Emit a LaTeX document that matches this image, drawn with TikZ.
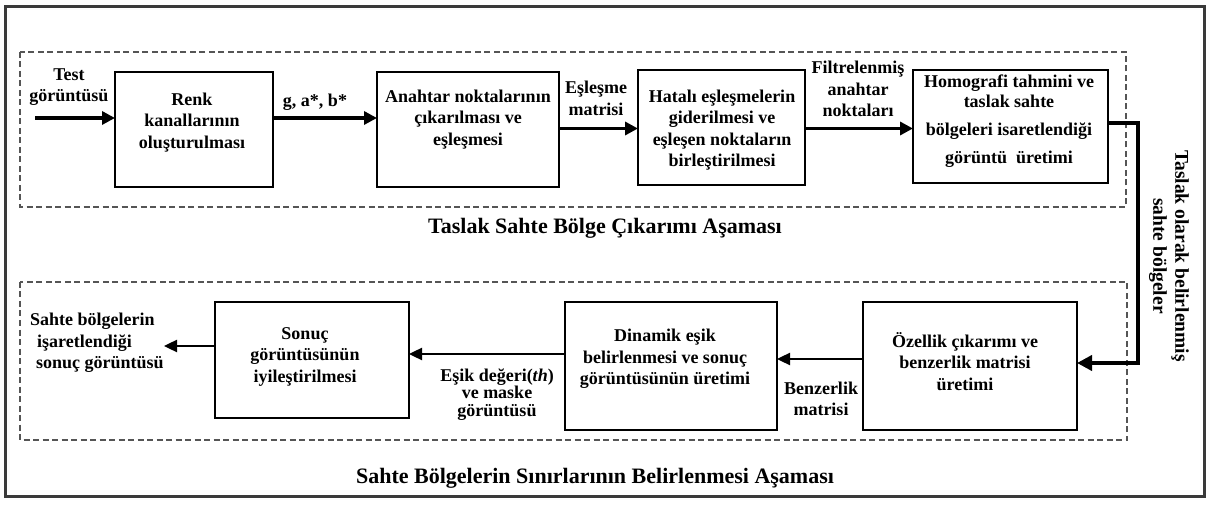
\documentclass[tikz,border=0pt]{standalone}
\usepackage{fontspec}
\setmainfont{Liberation Serif}
\usetikzlibrary{arrows.meta,calc}
\definecolor{framegray}{HTML}{3A3A3A}
\definecolor{dashgray}{HTML}{555555}
\begin{document}
\begin{tikzpicture}[x=1pt,y=-1pt,
  every node/.style={inner sep=0pt, outer sep=0pt},
  txt/.style={font=\fontsize{18}{21.5}\selectfont\bfseries, align=center},
  title/.style={font=\fontsize{22}{26}\selectfont\bfseries},
  procbox/.style={draw, line width=2.5pt, fill=white},
  phase/.style={draw=dashgray, line width=1.2pt, dash pattern=on 6pt off 3.5pt},
  frame/.style={draw=framegray, line width=3pt},
  thickarr/.style={line width=3.8pt, -{Triangle[length=13pt,width=13pt]}},
  thinarr/.style={line width=2.4pt, -{Triangle[length=13pt,width=12pt]}},
  feedarr/.style={line width=3.8pt, line join=miter, -{Triangle[length=15pt,width=15pt]}}
]
% page and outer frame
\path[use as bounding box, fill=white] (0,0) rectangle (1211,505);
\draw[frame] (5.5,7) rectangle (1204,496);

% dashed stage frames
\draw[phase] (20,52) rectangle (1126,207);
\draw[phase] (20,282) rectangle (1127,440);

% stage titles
\node[title] (t1) at (605,228) {Taslak Sahte Bölge Çıkarımı Aşaması};
\node[title] (t2) at (595,478) {Sahte Bölgelerin Sınırlarının Belirlenmesi Aşaması};

% first stage: boxes
\node[procbox, minimum width=158pt, minimum height=115pt] (renk) at (194,129.5) {};
\node[procbox, minimum width=182pt, minimum height=115pt] (anah) at (468,129.5) {};
\node[procbox, minimum width=167pt, minimum height=115pt] (hata) at (721.5,127.5) {};
\node[procbox, minimum width=195pt, minimum height=113pt] (homo) at (1010.5,126.5) {};

\node[txt] (renk-t) at (192,122.5) {Renk\\kanallarının\\oluşturulması};
\node[txt] (anah-t) at (468,119.5) {Anahtar noktalarının\\çıkarılması ve\\eşleşmesi};
\node[txt] (hata-t) at (722,130) {Hatalı eşleşmelerin\\giderilmesi ve\\eşleşen noktaların\\birleştirilmesi};
\node[txt] (homo-t) at (1009,121) {Homografi tahmini ve\\[-2pt]taslak sahte\\[7pt]bölgeleri isaretlendiği\\[6pt]görüntü\ \ üretimi};

% second stage: boxes
\node[procbox, minimum width=214pt, minimum height=128pt] (ozel) at (970,366) {};
\node[procbox, minimum width=212pt, minimum height=128pt] (dina) at (671,366) {};
\node[procbox, minimum width=194pt, minimum height=116pt] (sonu) at (312,360) {};

\node[txt] (ozel-t) at (965,361.5) {Özellik çıkarımı ve\\benzerlik matrisi\\üretimi};
\node[txt] (dina-t) at (665,359) {Dinamik eşik\\belirlenmesi ve sonuç\\görüntüsünün üretimi};
\node[txt] (sonu-t) at (305,356.5) {Sonuç\\görüntüsünün\\iyileştirilmesi};

% connector labels
\node[txt] (lin) at (69,87) {Test\\görüntüsü};
\node[txt] (lrgb) at (315,102) {g, a*, b*};
\node[txt] (lmat) at (596,98.5) {Eşleşme\\matrisi};
\node[txt] (lfil) at (858,89) {Filtrelenmiş\\anahtar\\noktaları};
\node[txt, rotate=-90, font=\fontsize{19.5}{22}\selectfont\bfseries] (lfeed) at (1169,256) {Taslak olarak belirlenmiş\\sahte bölgeler};
\node[txt] (lsim) at (821,399) {Benzerlik\\matrisi};
\node[txt, font=\fontsize{18}{17.5}\selectfont\bfseries] (lthr) at (497,394.5) {Eşik değeri(\textit{th})\\ve\ maske\\görüntüsü};
\node[txt, align=left] (lout) at (97,343) {Sahte bölgelerin\\\hspace*{7pt}işaretlendiği\\\hspace*{6pt}sonuç görüntüsü};

% helper points for connectors
\coordinate (src) at (35,118);
\coordinate (r1) at (0,118);
\coordinate (r2) at (0,128.5);
\coordinate (c1) at (1138,123);
\coordinate (c2) at (1138,363);
\coordinate (b1) at (0,359);
\coordinate (b2) at (0,354);
\coordinate (dst) at (164,346);

% first stage flow
\draw[thickarr] (src) -- (renk.west |- src);
\draw[thickarr] (renk.east |- r1) -- (anah.west |- r1);
\draw[thickarr] (anah.east |- r2) -- (hata.west |- r2);
\draw[thickarr] (hata.east |- r2) -- (homo.west |- r2);

% hand-over to the second stage
\draw[feedarr] (homo.east |- c1) -- (c1) -- (c2) -- (ozel.east |- c2);

% second stage flow
\draw[thinarr] (ozel.west |- b1) -- (dina.east |- b1);
\draw[thinarr] (dina.west |- b2) -- (sonu.east |- b2);
\draw[thinarr] (sonu.west |- dst) -- (dst);
\end{tikzpicture}
\end{document}
